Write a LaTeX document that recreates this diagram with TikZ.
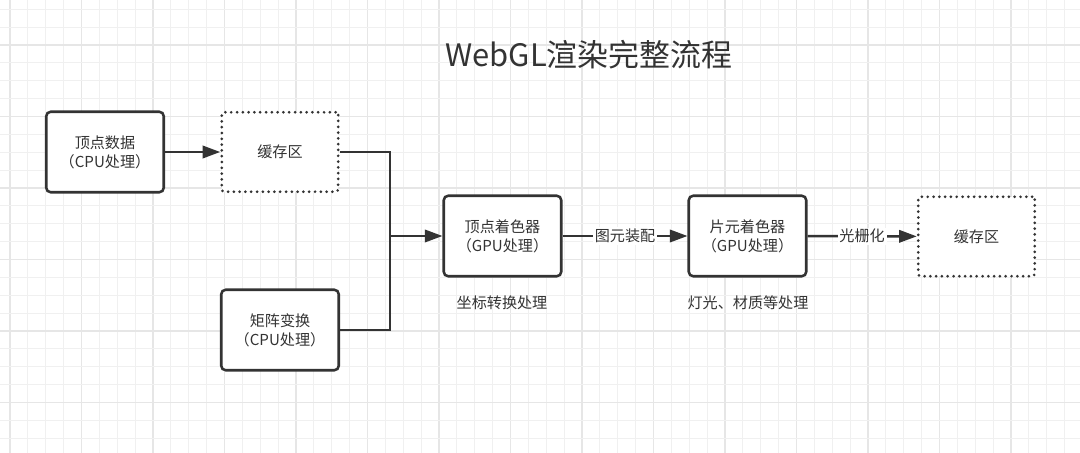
\documentclass[tikz,border=0pt]{standalone}
\usepackage{fontspec}
\setmainfont{Noto Sans CJK SC}
\usepackage{tikz}
\usetikzlibrary{arrows.meta, positioning}

\definecolor{inkgray}{HTML}{333333}
\definecolor{gridminor}{HTML}{F0F0F0}
\definecolor{gridmajor}{HTML}{E6E6E6}

\tikzset{
    stage/.style={draw=inkgray, text=inkgray, line width=1.45pt, rounded corners=2.5pt, fill=white,
        minimum width=2.35cm, minimum height=1.61cm, align=center, font=\fontsize{8.6}{10.8}\selectfont},
    buffer/.style={stage, line width=1.7pt, minimum width=2.33cm, minimum height=1.59cm,
        rounded corners=1.5pt, dash pattern=on 0pt off 3.3pt, line cap=round},
    flow/.style={draw=inkgray, line width=1.45pt, -{Triangle[length=10pt, width=7pt]}},
    link/.style={draw=inkgray, line width=1.45pt},
    steplabel/.style={fill=white, text=inkgray, inner sep=1pt, font=\fontsize{8.6}{10.8}\selectfont},
    note/.style={text=inkgray, font=\fontsize{8.6}{10.8}\selectfont}
}

\begin{document}
\begin{tikzpicture}[x=0.02cm, y=-0.02cm]
    \useasboundingbox (0,0) rectangle (1080,453);
    \fill[white] (0,0) rectangle (1080,453);

    % Background grid
    \foreach \i in {0,...,59} {
        \pgfmathparse{mod(\i,4)==0 ? "gridmajor" : "gridminor"}
        \draw[\pgfmathresult, line width=0.6pt] ({10+\i*17.875},0) -- ({10+\i*17.875},453);
    }
    \foreach \j in {0,...,24} {
        \pgfmathparse{mod(\j+2,4)==0 ? "gridmajor" : "gridminor"}
        \draw[\pgfmathresult, line width=0.6pt] (0,{9.25+\j*17.875}) -- (1080,{9.25+\j*17.875});
    }

    % Title
    \node[text=inkgray, font=\fontsize{17.6}{20}\selectfont] (title) at (589,55) {WebGL渲染完整流程};

    % Stages
    \node[stage] (vdata) at (105,152) {顶点数据\\（CPU处理）};
    \node[buffer] (buf1) at (280,152) {缓存区};
    \node[stage] (matrix) at (280,330) {矩阵变换\\（CPU处理）};
    \node[stage] (vshader) at (502.5,236) {顶点着色器\\（GPU处理）};
    \node[stage] (fshader) at (747.5,236) {片元着色器\\（GPU处理）};
    \node[buffer] (buf2) at (976.5,236.5) {缓存区};
    \coordinate (merge) at (390,236);

    % Notes
    \node[note] (vnote) at (502,303) {坐标转换处理};
    \node[note] (fnote) at (748,303) {灯光、材质等处理};

    % Connectors
    \draw[flow] (vdata) -- (buf1);
    \draw[link] (buf1.east) -| (merge);
    \draw[link] (matrix.east) -| (merge);
    \draw[flow] (merge) -- (vshader.west);
    \draw[flow] (vshader) -- node[steplabel] {图元装配} (fshader);
    \draw[flow] (fshader) -- node[steplabel] {光栅化} (buf2);
\end{tikzpicture}
\end{document}
